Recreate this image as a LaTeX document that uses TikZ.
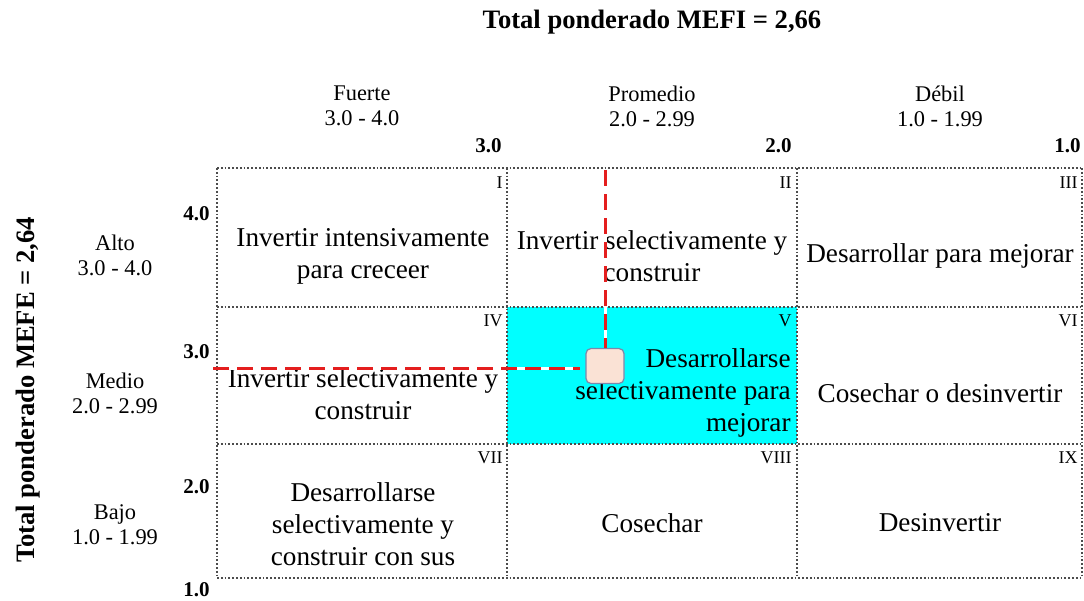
\documentclass[tikz,border=0pt]{standalone}
\usepackage{fontspec}
\setmainfont{Liberation Serif}
\definecolor{cellcyan}{RGB}{0,255,255}
\definecolor{markfill}{RGB}{250,226,213}
\definecolor{markline}{RGB}{125,135,170}
\definecolor{cutred}{RGB}{228,30,30}

\begin{document}
\begin{tikzpicture}[x=0.5pt, y=-0.5pt,
  txt/.style={font=\fontsize{13.6}{16}\selectfont, align=center, inner sep=0pt},
  hdr/.style={font=\fontsize{11.2}{12.5}\selectfont, align=center, inner sep=0pt},
  num/.style={font=\bfseries\fontsize{10.5}{12}\selectfont, anchor=east, inner sep=0pt},
  rom/.style={font=\fontsize{9}{10}\selectfont, anchor=east, inner sep=0pt},
  ttl/.style={font=\bfseries\fontsize{13.3}{15}\selectfont, inner sep=0pt},
  celline/.style={densely dotted, line width=0.9pt, black!70},
  cut/.style={draw=cutred, line width=1.5pt, dash pattern=on 8pt off 4pt}]
  \useasboundingbox (0,0) rectangle (1084,601);

  \node[ttl] (mefi) at (652, 22) {Total ponderado MEFI = 2,66};
  \node[ttl, rotate=90] (mefe) at (28, 390) {Total ponderado MEFE = 2,64};

  \fill[cellcyan] (507,307) rectangle (797,444);
  \foreach \x in {217,507,797,1082}
    \draw[celline] (\x,168) -- (\x,578);
  \foreach \y in {168,307,444,578}
    \draw[celline] (217,\y) -- (1082,\y);

  \node[hdr] (fuerte) at (362, 106) {Fuerte\\3.0 - 4.0};
  \node[hdr] (promedio) at (652, 106) {Promedio\\2.0 - 2.99};
  \node[hdr] (debil) at (940, 106) {Débil\\1.0 - 1.99};

  \node[num] (x3) at (502, 146) {3.0};
  \node[num] (x2) at (792, 146) {2.0};
  \node[num] (x1) at (1081, 146) {1.0};

  \node[hdr] (alto) at (115, 255) {Alto\\3.0 - 4.0};
  \node[hdr] (medio) at (115, 393) {Medio\\2.0 - 2.99};
  \node[hdr] (bajo) at (115, 525) {Bajo\\1.0 - 1.99};

  \node[num] (y4) at (210, 214) {4.0};
  \node[num] (y3) at (210, 352) {3.0};
  \node[num] (y2) at (210, 487) {2.0};
  \node[num] (y1) at (210, 590) {1.0};

  \node[rom] (r1) at (503, 183) {I};
  \node[rom] (r2) at (792, 183) {II};
  \node[rom] (r3) at (1078, 183) {III};
  \node[rom] (r4) at (503, 321) {IV};
  \node[rom] (r5) at (792, 321) {V};
  \node[rom] (r6) at (1078, 321) {VI};
  \node[rom] (r7) at (503, 458) {VII};
  \node[rom] (r8) at (792, 458) {VIII};
  \node[rom] (r9) at (1078, 458) {IX};

  \node[txt] (c1) at (363, 256) {Invertir intensivamente\\para creceer};
  \node[txt] (c2) at (652, 256) {Invertir selectivamente y\\construir};
  \node[txt] (c3) at (940, 256) {Desarrollar para mejorar};
  \node[txt] (c4) at (363, 394) {Invertir selectivamente y\\construir};
  \node[txt, align=right, anchor=east] (c5) at (791, 393) {Desarrollarse\\selectivamente para\\mejorar};
  \node[txt] (c6) at (940, 393) {Cosechar o desinvertir};
  \node[txt] (c7) at (363, 524) {Desarrollarse\\selectivamente y\\construir con sus};
  \node[txt] (c8) at (652, 523) {Cosechar};
  \node[txt] (c9) at (940, 523) {Desinvertir};

  \coordinate (mtop) at (605, 170);
  \coordinate (mleft) at (213, 368);
  \node[draw=markline, fill=markfill, rounded corners=2.5pt, line width=0.6pt,
    minimum width=19pt, minimum height=17.5pt, inner sep=0pt] (mark) at (605, 366) {};
  \draw[white, line width=1.5pt] (mtop) -- (mark.north);
  \draw[cut] (mtop) -- (mark.north);
  \draw[white, line width=1.5pt] (mleft) -- ([xshift=-2.5pt]mark.west |- mleft);
  \draw[cut] (mleft) -- ([xshift=-2.5pt]mark.west |- mleft);
\end{tikzpicture}
\end{document}
